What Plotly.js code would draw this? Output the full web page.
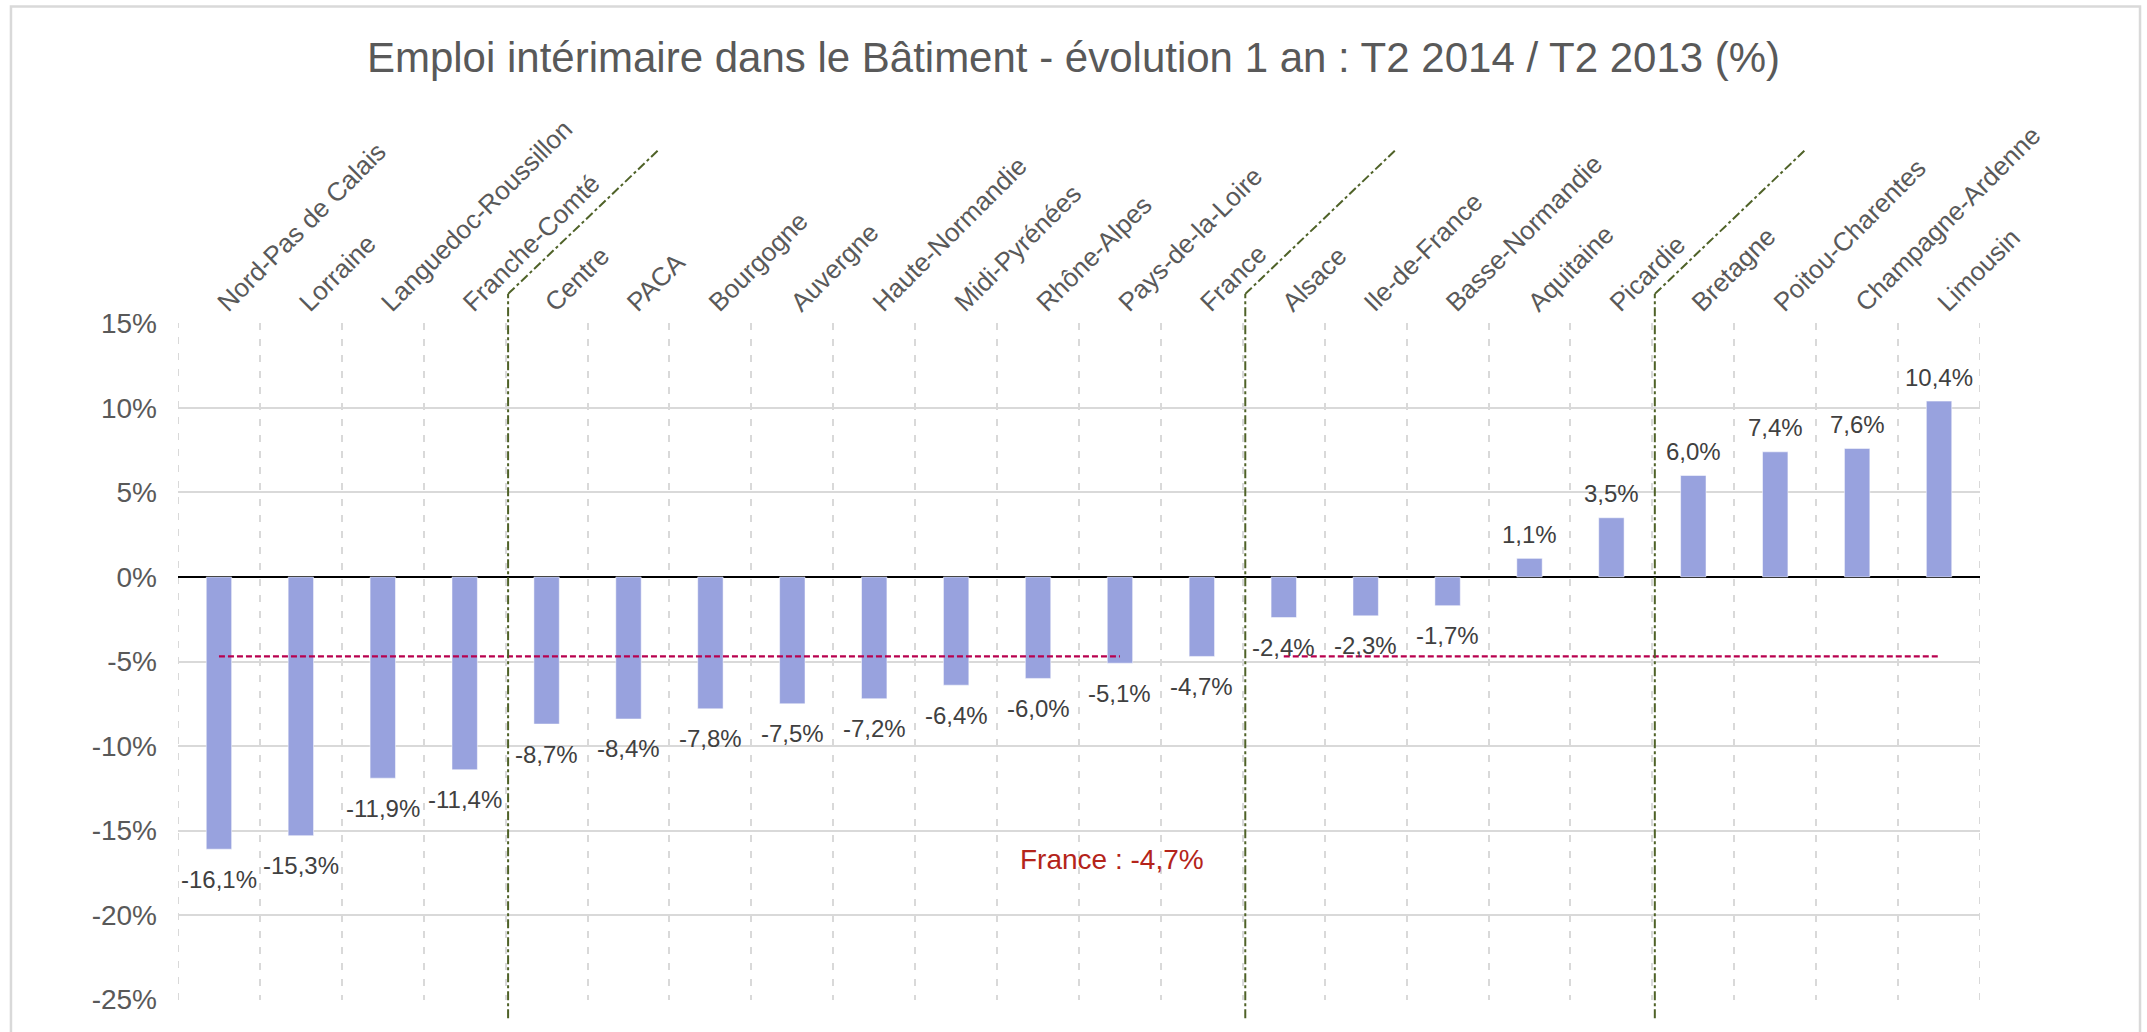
<!DOCTYPE html>
<html>
<head>
<meta charset="utf-8">
<script src="https://cdn.plot.ly/plotly-3.0.1.min.js"></script>
<style>
html, body { margin: 0; padding: 0; background: #ffffff; }
#chart { width: 2147px; height: 1032px; }
</style>
</head>
<body>
<div id="chart"></div>
<script>
// ---- Data ----
const categories = [
  'Nord-Pas de Calais', 'Lorraine', 'Languedoc-Roussillon', 'Franche-Comté',
  'Centre', 'PACA', 'Bourgogne', 'Auvergne', 'Haute-Normandie', 'Midi-Pyrénées',
  'Rhône-Alpes', 'Pays-de-la-Loire', 'France', 'Alsace', 'Ile-de-France',
  'Basse-Normandie', 'Aquitaine', 'Picardie', 'Bretagne', 'Poitou-Charentes',
  'Champagne-Ardenne', 'Limousin'
];
const values = [
  -16.1, -15.3, -11.9, -11.4,
  -8.7, -8.4, -7.8, -7.5, -7.2, -6.4,
  -6.0, -5.1, -4.7, -2.4, -2.3,
  -1.7, 1.1, 3.5, 6.0, 7.4,
  7.6, 10.4
];
const franceAverage = -4.7;
const franceLabel = 'France : -4,7%';
const groupBreakAfter = ['Franche-Comté', 'France', 'Picardie'];
const yTickValues = [15, 10, 5, 0, -5, -10, -15, -20, -25];
const yTickLabels = ['15%', '10%', '5%', '0%', '-5%', '-10%', '-15%', '-20%', '-25%'];
const chartTitle = 'Emploi intérimaire dans le Bâtiment - évolution 1 an : T2 2014 / T2 2013 (%)';

// ---- Helpers ----
const FONT = 'Liberation Sans, Arial, sans-serif';
const fmt = v => v.toFixed(1).replace('.', ',') + '%';

const barTrace = {
  type: 'bar',
  x: categories,
  y: values,
  marker: { color: '#98A2DE', line: { color: 'rgba(255,255,255,0.5)', width: 1 } },
  hoverinfo: 'x+y'
};

const refTrace = {
  type: 'scatter',
  mode: 'lines',
  x: categories,
  y: categories.map(c => c === 'France' ? null : franceAverage),
  connectgaps: false,
  line: { color: '#B8004E', width: 2.2, dash: '6px,3px' },
  hoverinfo: 'skip'
};

const labelAnnotations = values.map((v, i) => ({
  x: categories[i],
  y: v,
  xref: 'x', yref: 'y',
  text: fmt(v),
  showarrow: false,
  yanchor: 'middle',
  yshift: v < 0 ? -30 : 24,
  font: { family: FONT, size: 24, color: '#404040' }
}));

labelAnnotations.push({
  x: 'Pays-de-la-Loire',
  y: -16.7,
  xref: 'x', yref: 'y',
  xshift: -8,
  text: franceLabel,
  showarrow: false,
  yanchor: 'middle',
  font: { family: FONT, size: 28, color: '#B4241A' }
});

const shapes = [];
// dashed category gridlines at the outer edges of the plot
[-0.5, categories.length - 0.5].forEach(ex => {
  shapes.push({
    type: 'line', xref: 'x', yref: 'paper', layer: 'below',
    x0: ex, x1: ex, y0: 0, y1: 1,
    line: { color: '#D9D9D9', width: 2, dash: '7px,9px' }
  });
});
groupBreakAfter.forEach(name => {
  const bx = categories.indexOf(name) + 0.53;
  shapes.push({
    type: 'line', xref: 'x', yref: 'paper',
    x0: bx, x1: bx, y0: -0.027, y1: 1.043,
    line: { color: '#4F6228', width: 2, dash: 'dashdot' }
  });
  shapes.push({
    type: 'line', xref: 'x', yref: 'paper',
    x0: bx, x1: bx + 1.83, y0: 1.043, y1: 1.255,
    line: { color: '#4F6228', width: 2, dash: 'dashdot' }
  });
});
// outer chart border
shapes.push({
  type: 'rect', xref: 'paper', yref: 'paper',
  x0: -0.0927, x1: 1.0888, y0: -0.2, y1: 1.4676,
  line: { color: '#D9D9D9', width: 2.5 },
  fillcolor: 'rgba(0,0,0,0)'
});

const layout = {
  width: 2147,
  height: 1032,
  margin: { l: 178, r: 167, t: 323, b: 32, pad: 0 },
  paper_bgcolor: '#ffffff',
  plot_bgcolor: '#ffffff',
  font: { family: FONT, color: '#595959' },
  showlegend: false,
  bargap: 0.69,
  title: {
    text: chartTitle,
    font: { family: FONT, size: 42, color: '#595959' },
    x: 0.5, xref: 'container', xanchor: 'center',
    y: 0.944, yref: 'container', yanchor: 'middle'
  },
  xaxis: {
    type: 'category',
    side: 'top',
    range: [-0.5, categories.length - 0.5],
    tickangle: -45,
    tickson: 'boundaries',
    ticks: '',
    showgrid: true,
    gridcolor: '#D9D9D9',
    gridwidth: 2,
    griddash: '7px,9px',
    showline: false,
    zeroline: false,
    tickfont: { family: FONT, size: 26, color: '#595959' },
    fixedrange: true
  },
  yaxis: {
    range: [-25.02, 15.02],
    tickvals: yTickValues,
    ticktext: yTickLabels,
    ticks: '',
    showgrid: true,
    gridcolor: '#D9D9D9',
    gridwidth: 2,
    zeroline: true,
    zerolinecolor: '#000000',
    zerolinewidth: 2,
    showline: false,
    ticklabelstandoff: 20,
    tickfont: { family: FONT, size: 28, color: '#595959' },
    fixedrange: true
  },
  annotations: labelAnnotations,
  shapes: shapes
};

Plotly.newPlot('chart', [barTrace, refTrace], layout, { displayModeBar: false, staticPlot: true });
</script>
</body>
</html>
